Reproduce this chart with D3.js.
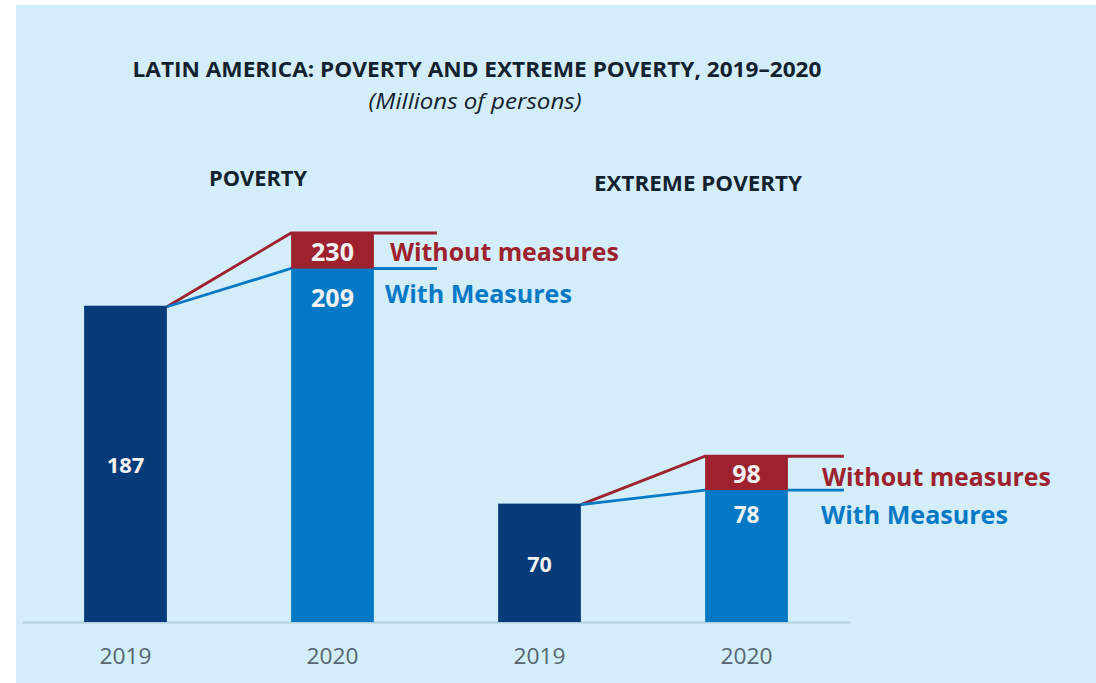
<!DOCTYPE html>
<html>
<head>
<meta charset="utf-8">
<script src="https://cdn.jsdelivr.net/npm/d3@7"></script>
<style>
  body { margin: 0; background: #fff; }
  text { font-family: "Open Sans", "Noto Sans", sans-serif; }
</style>
</head>
<body>
<svg></svg>
<script>
// chart data
let groups = ['POVERTY', 'EXTREME POVERTY']
let years = ['2019', '2020']
let baseValues = [187, 70]        // 2019
let withMeasures = [209, 78]      // 2020 with measures
let withoutMeasures = [230, 98]   // 2020 without measures
let seriesLabels = ['Without measures', 'With Measures']

let width = 1096
let height = 683
let axisY = 622

let colors = {
    bg: '#d3eef9',
    navy: '#073a78',
    blue: '#0679c6',
    red: '#9e212e',
    text: '#13222f',
    tick: '#56656f',
    axis: '#b3cfdc'
}

let svg = d3.select('svg')
    .attr('width', width)
    .attr('height', height)

svg.append('rect')
   .attr('x', 16).attr('y', 5)
   .attr('width', width - 16).attr('height', height - 5)
   .attr('fill', colors.bg)

// one band per bar: group + year
let bars = []
groups.forEach((g, i) => {
    bars.push({ key: g + '|2019', group: i, year: years[0] })
    bars.push({ key: g + '|2020', group: i, year: years[1] })
})

let xScale = d3.scaleBand()
    .domain(bars.map(d => d.key))
    .range([22, 850])
    .paddingInner(0.6)
    .paddingOuter(0.3)

let yScale = d3.scaleLinear()
    .domain([0, 230])
    .range([axisY, 233])

let bw = xScale.bandwidth()

// stretch a text to a given width (source font is narrower than ours)
let fit = (sel, w) => sel.attr('textLength', w).attr('lengthAdjust', 'spacingAndGlyphs')

// titles
svg.append('text')
   .attr('x', 477).attr('y', 77)
   .attr('text-anchor', 'middle')
   .attr('font-size', 20.5).attr('font-weight', 700)
   .attr('fill', colors.text)
   .text('LATIN AMERICA: POVERTY AND EXTREME POVERTY, 2019–2020')
   .call(fit, 689)

svg.append('text')
   .attr('x', 475).attr('y', 109)
   .attr('text-anchor', 'middle')
   .attr('font-size', 22).attr('font-style', 'italic')
   .attr('fill', colors.text)
   .text('(Millions of persons)')
   .call(fit, 213)

let groupTitleX = [258, 698]
let groupTitleY = [186, 191]
let groupTitleW = [98, 208]
groups.forEach((g, i) => {
    svg.append('text')
       .attr('x', groupTitleX[i]).attr('y', groupTitleY[i])
       .attr('text-anchor', 'middle')
       .attr('font-size', 21).attr('font-weight', 700)
       .attr('fill', colors.text)
       .text(g)
       .call(fit, groupTitleW[i])
})

// axis
let xAxis = d3.axisBottom(xScale)
    .tickSize(0)
    .tickPadding(26)
    .tickFormat(k => k.split('|')[1])

let axisG = svg.append('g')
   .attr('transform', 'translate(0,' + axisY + ')')
   .call(xAxis)

axisG.select('.domain').attr('stroke', colors.axis).attr('stroke-width', 2)
axisG.selectAll('text')
     .attr('font-size', 22)
     .attr('fill', colors.tick)
     .attr('font-family', '"Open Sans", sans-serif')
     .call(fit, 52)

// connector lines, drawn under the bars
let lineExtra = [63, 56]
groups.forEach((g, i) => {
    let x0 = xScale(g + '|2019') + bw
    let x1 = xScale(g + '|2020')
    let xEnd = x1 + bw + lineExtra[i]
    let y0 = yScale(baseValues[i]) + 1
    let lineGen = d3.line()
    svg.append('path')
       .attr('d', lineGen([[x0, y0], [x1, yScale(withoutMeasures[i])], [xEnd, yScale(withoutMeasures[i])]]))
       .attr('fill', 'none').attr('stroke', colors.red).attr('stroke-width', 2.8)
    svg.append('path')
       .attr('d', lineGen([[x0, y0], [x1, yScale(withMeasures[i])], [xEnd, yScale(withMeasures[i])]]))
       .attr('fill', 'none').attr('stroke', colors.blue).attr('stroke-width', 2.8)
})

// 2019 bars
svg.selectAll('.bar-base')
   .data(baseValues)
   .enter()
   .append('rect')
   .attr('class', 'bar-base')
   .attr('x', (d, i) => xScale(groups[i] + '|2019'))
   .attr('y', d => yScale(d))
   .attr('width', bw)
   .attr('height', d => axisY - yScale(d))
   .attr('fill', colors.navy)

// 2020 with measures
svg.selectAll('.bar-with')
   .data(withMeasures)
   .enter()
   .append('rect')
   .attr('class', 'bar-with')
   .attr('x', (d, i) => xScale(groups[i] + '|2020'))
   .attr('y', d => yScale(d))
   .attr('width', bw)
   .attr('height', d => axisY - yScale(d))
   .attr('fill', colors.blue)

// 2020 extra without measures
svg.selectAll('.bar-without')
   .data(withoutMeasures)
   .enter()
   .append('rect')
   .attr('class', 'bar-without')
   .attr('x', (d, i) => xScale(groups[i] + '|2020'))
   .attr('y', d => yScale(d))
   .attr('width', bw)
   .attr('height', (d, i) => yScale(withMeasures[i]) - yScale(d))
   .attr('fill', colors.red)

// value labels
baseValues.forEach((v, i) => {
    svg.append('text')
       .attr('x', xScale(groups[i] + '|2019') + bw / 2)
       .attr('y', (yScale(v) + axisY) / 2 + 9)
       .attr('text-anchor', 'middle')
       .attr('font-size', [22, 21.5][i]).attr('font-weight', 700)
       .attr('fill', '#f2f2f2')
       .text(v)
})

withoutMeasures.forEach((v, i) => {
    svg.append('text')
       .attr('x', xScale(groups[i] + '|2020') + bw / 2)
       .attr('y', (yScale(v) + yScale(withMeasures[i])) / 2 + 10)
       .attr('text-anchor', 'middle')
       .attr('font-size', [25, 25][i]).attr('font-weight', 700)
       .attr('fill', '#f2f2f2')
       .text(v)
})

withMeasures.forEach((v, i) => {
    svg.append('text')
       .attr('x', xScale(groups[i] + '|2020') + bw / 2)
       .attr('y', yScale(v) + [38, 33][i])
       .attr('text-anchor', 'middle')
       .attr('font-size', [25, 22.5][i]).attr('font-weight', 700)
       .attr('fill', '#f2f2f2')
       .text(v)
})

// series labels next to the 2020 bars
let seriesOffsets = [[16, 11], [34, 33]]
groups.forEach((g, i) => {
    let xl = xScale(g + '|2020') + bw
    svg.append('text')
       .attr('x', xl + seriesOffsets[i][0])
       .attr('y', (yScale(withoutMeasures[i]) + yScale(withMeasures[i])) / 2 + [10, 13][i])
       .attr('font-size', 24.5).attr('font-weight', 700)
       .attr('fill', colors.red)
       .text(seriesLabels[0])
       .call(fit, 229)
    svg.append('text')
       .attr('x', xl + seriesOffsets[i][1])
       .attr('y', yScale(withMeasures[i]) + 34)
       .attr('font-size', 24.5).attr('font-weight', 700)
       .attr('fill', colors.blue)
       .text(seriesLabels[1])
       .call(fit, 187)
})
</script>
</body>
</html>
